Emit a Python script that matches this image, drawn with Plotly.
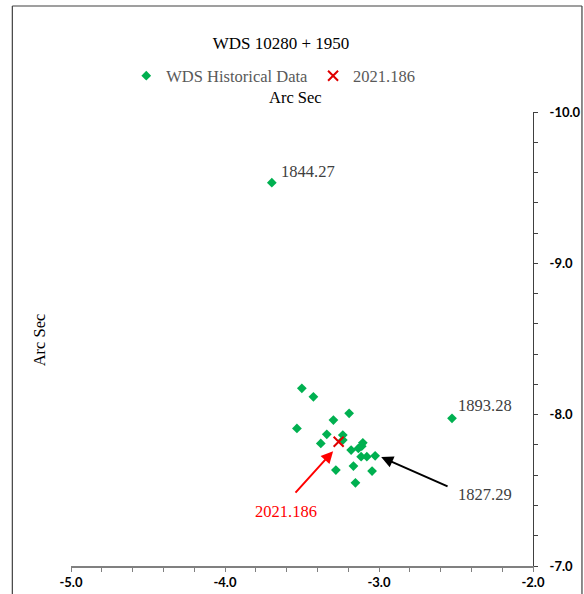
import plotly.graph_objects as go

# Historical WDS measurements (arc sec)
hist_x = [-3.696, -2.526, -3.025, -3.501, -3.426, -3.194, -3.296, -3.533, -3.339,
          -3.235, -3.378, -3.235, -3.105, -3.181, -3.134, -3.112, -3.116, -3.079,
          -3.280, -3.166, -3.045, -3.153]
hist_y = [-9.533, -7.976, -7.728, -8.174, -8.118, -8.009, -7.964, -7.909, -7.870,
          -7.865, -7.810, -7.832, -7.814, -7.766, -7.777, -7.792, -7.722, -7.722,
          -7.634, -7.660, -7.627, -7.550]

new_x = [-3.262]
new_y = [-7.821]

x_ticks = [-5.0, -4.0, -3.0, -2.0]
y_ticks = [-10.0, -9.0, -8.0, -7.0]

serif = "Liberation Serif"
label_col = "#404040"

L, R, T, B = 70.7, 533.0, 112.0, 566.0
PW, PH = R - L, B - T


def px(xp):
    return (xp - L) / PW


def py(yp):
    return (B - yp) / PH


fig = go.Figure()
fig.add_trace(go.Scatter(
    x=hist_x, y=hist_y, mode="markers", name="WDS Historical Data",
    marker=dict(symbol="diamond", size=7.5, color="#00B050"),
))
fig.add_trace(go.Scatter(
    x=new_x, y=new_y, mode="markers", name="2021.186",
    marker=dict(symbol="x-thin-open", size=10, color="#E00000",
                line=dict(width=2, color="#E00000")),
))

tickfont = dict(family="Lato", size=13, color="black", weight="bold")

fig.update_layout(
    width=584, height=594,
    margin=dict(l=L, r=584 - R, t=T, b=594 - B),
    paper_bgcolor="white", plot_bgcolor="white",
    title=dict(text="WDS 10280 + 1950", x=281 / 584, xanchor="center",
               y=1 - 43 / 594, yanchor="middle",
               font=dict(family=serif, size=17, color="black")),
    showlegend=True,
    legend=dict(orientation="h", x=px(126), xanchor="left",
                y=1 - 76 / 594, yref="container", yanchor="middle",
                font=dict(family=serif, size=16.5, color="#595959"),
                itemwidth=30, bgcolor="rgba(0,0,0,0)"),
    xaxis=dict(range=[-5, -2], tickvals=x_ticks, ticktext=[f"{v:.1f}" for v in x_ticks],
               showgrid=False, zeroline=False, showline=True, linecolor="#808080",
               linewidth=1.5, ticks="outside", ticklen=4, tickcolor="#808080",
               minor=dict(dtick=0.2, ticks="outside", ticklen=4, tickcolor="#808080"),
               tickfont=tickfont, ticklabelstandoff=0, automargin=False),
    yaxis=dict(range=[-7, -10], side="right", tickvals=y_ticks,
               ticktext=[f"{v:.1f}" for v in y_ticks],
               showgrid=False, zeroline=False, showline=True, linecolor="#404040",
               linewidth=1, ticks="outside", ticklen=4, tickcolor="#404040",
               minor=dict(dtick=0.2, ticks="outside", ticklen=4, tickcolor="#404040"),
               tickfont=tickfont, ticklabelstandoff=9, automargin=False),
)

# axis titles
fig.add_annotation(text="Arc Sec", xref="paper", yref="paper",
                   x=px(295), y=py(97), xanchor="center", yanchor="middle",
                   showarrow=False, font=dict(family=serif, size=16.5, color="black"))
fig.add_annotation(text="Arc Sec", xref="paper", yref="paper",
                   x=px(39), y=py(340), xanchor="center", yanchor="middle",
                   showarrow=False, textangle=-90,
                   font=dict(family=serif, size=16.5, color="black"))

# data labels
labels = [("1844.27", -3.648, -9.610, label_col),
          ("1893.28", -2.500, -8.063, label_col),
          ("1827.29", -2.500, -7.475, label_col)]
for t, lx, ly, c in labels:
    fig.add_annotation(text=t, x=lx, y=ly, xanchor="left", yanchor="middle",
                       showarrow=False, font=dict(family=serif, size=16.5, color=c))
fig.add_annotation(text="2021.186", x=-3.603, y=-7.363, showarrow=False,
                   xanchor="center", yanchor="middle",
                   font=dict(family=serif, size=16.5, color="#FF0000"))

# arrows
fig.add_annotation(x=-3.298, y=-7.759, ax=-3.551, ay=-7.475, axref="x", ayref="y",
                   text="", showarrow=True, arrowhead=2, arrowsize=1.2,
                   arrowwidth=2, arrowcolor="#FF0000")
fig.add_annotation(x=-2.986, y=-7.720, ax=-2.545, ay=-7.522, axref="x", ayref="y",
                   text="", showarrow=True, arrowhead=2, arrowsize=1.2,
                   arrowwidth=2, arrowcolor="black")

# outer frame (left, top, right edges)
frame = dict(color="#404040", width=1.2)
fig.add_shape(type="line", xref="paper", yref="paper",
              x0=px(12), x1=px(12), y0=py(600), y1=py(6), line=frame)
fig.add_shape(type="line", xref="paper", yref="paper",
              x0=px(12), x1=px(582), y0=py(6), y1=py(6), line=frame)
fig.add_shape(type="line", xref="paper", yref="paper",
              x0=px(582), x1=px(582), y0=py(600), y1=py(6), line=frame)

fig.write_html("out.html", config={"displayModeBar": False},
               post_script="document.body.style.margin='0';"
                           "document.body.style.overflow='hidden';")
